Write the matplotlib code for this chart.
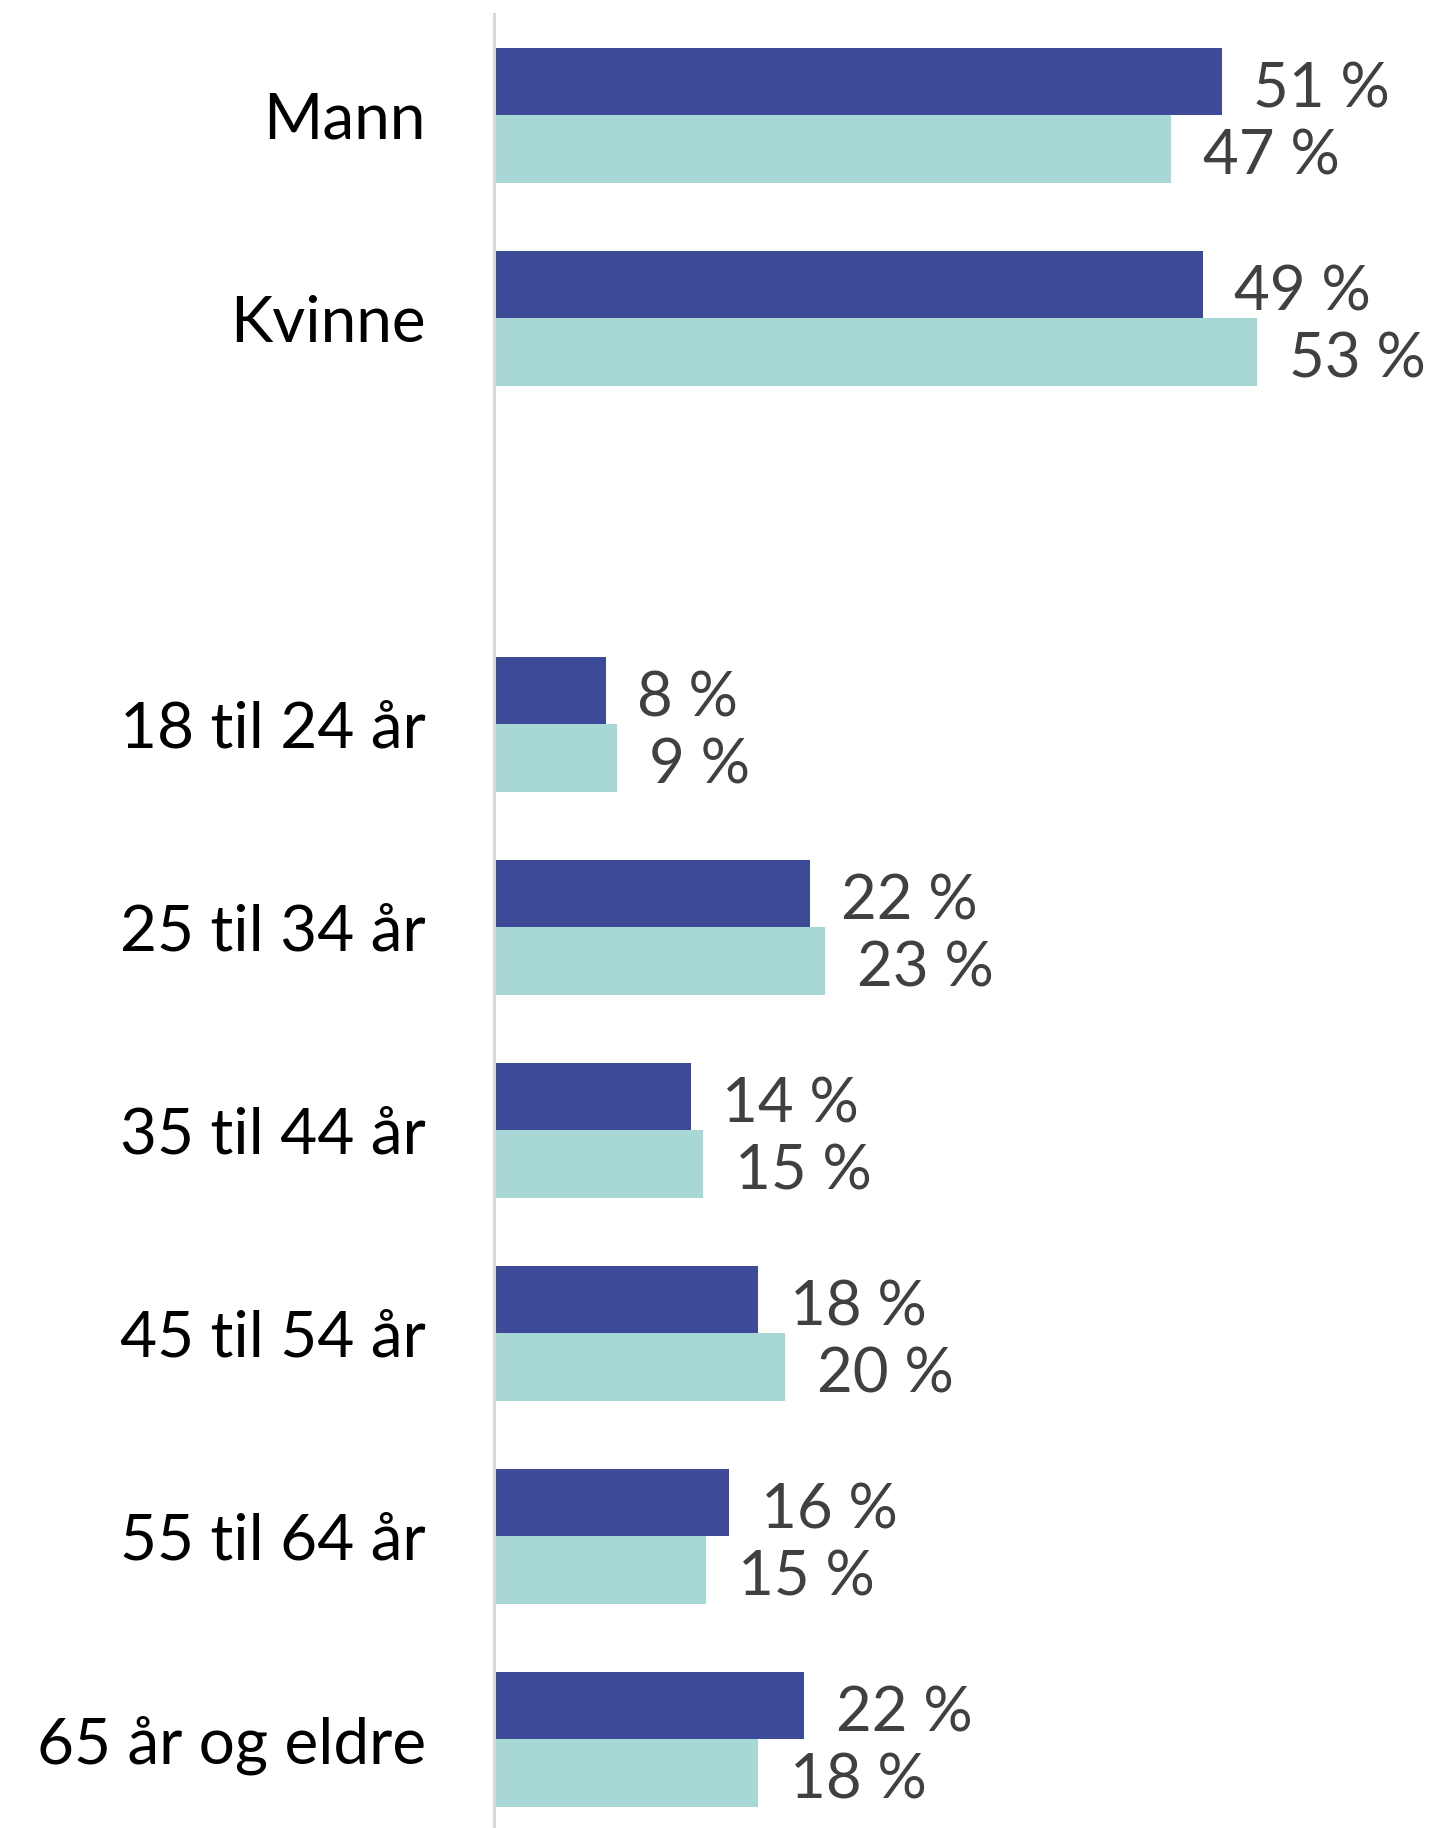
import matplotlib
matplotlib.use("Agg")
import matplotlib.pyplot as plt
import numpy as np

categories = ["Mann", "Kvinne", "", "18 til 24 år", "25 til 34 år", "35 til 44 år",
              "45 til 54 år", "55 til 64 år", "65 år og eldre"]
series_a = [50.7, 49.4, None, 7.8, 22.0, 13.7, 18.4, 16.4, 21.6]
series_b = [47.2, 53.2, None, 8.6, 23.1, 14.6, 20.3, 14.8, 18.4]
labels_a = ["51 %", "49 %", "", "8 %", "22 %", "14 %", "18 %", "16 %", "22 %"]
labels_b = ["47 %", "53 %", "", "9 %", "23 %", "15 %", "20 %", "15 %", "18 %"]

col_a = "#3C4A97"
col_b = "#A8D8D5"
font = ["Lato", "DejaVu Sans"]

W, H = 1431, 1828
fig = plt.figure(figsize=(W / 100, H / 100), dpi=100)
left = 494 / W
ax = fig.add_axes([left, 0, 1 - left, 1 - 14 / H])

y = np.arange(len(categories))
bh = 1 / 3
for i in range(len(categories)):
    if series_a[i] is None:
        continue
    ax.barh(y[i] - bh / 2, series_a[i], height=bh, color=col_a, edgecolor="none")
    ax.barh(y[i] + bh / 2, series_b[i], height=bh, color=col_b, edgecolor="none")
    ax.text(series_a[i] + 2.2, y[i] - bh / 2 + 0.04, labels_a[i], ha="left", va="center",
            fontsize=44.5, color="#404040", family=font)
    ax.text(series_b[i] + 2.2, y[i] + bh / 2 + 0.04, labels_b[i], ha="left", va="center",
            fontsize=44.5, color="#404040", family=font)

ax.set_xlim(0, 65.3)
ax.set_ylim(8.436, -0.5)
ax.set_yticks(y)
ax.set_yticklabels(categories, fontsize=46, family=font, color="black")
ax.tick_params(axis="y", length=0, pad=49)
ax.set_xticks([])
for s in ["top", "right", "bottom"]:
    ax.spines[s].set_visible(False)
ax.spines["left"].set_color("#D9D9D9")
ax.spines["left"].set_linewidth(2.2)
ax.patch.set_alpha(0)

fig.savefig("out.png", dpi=100)
